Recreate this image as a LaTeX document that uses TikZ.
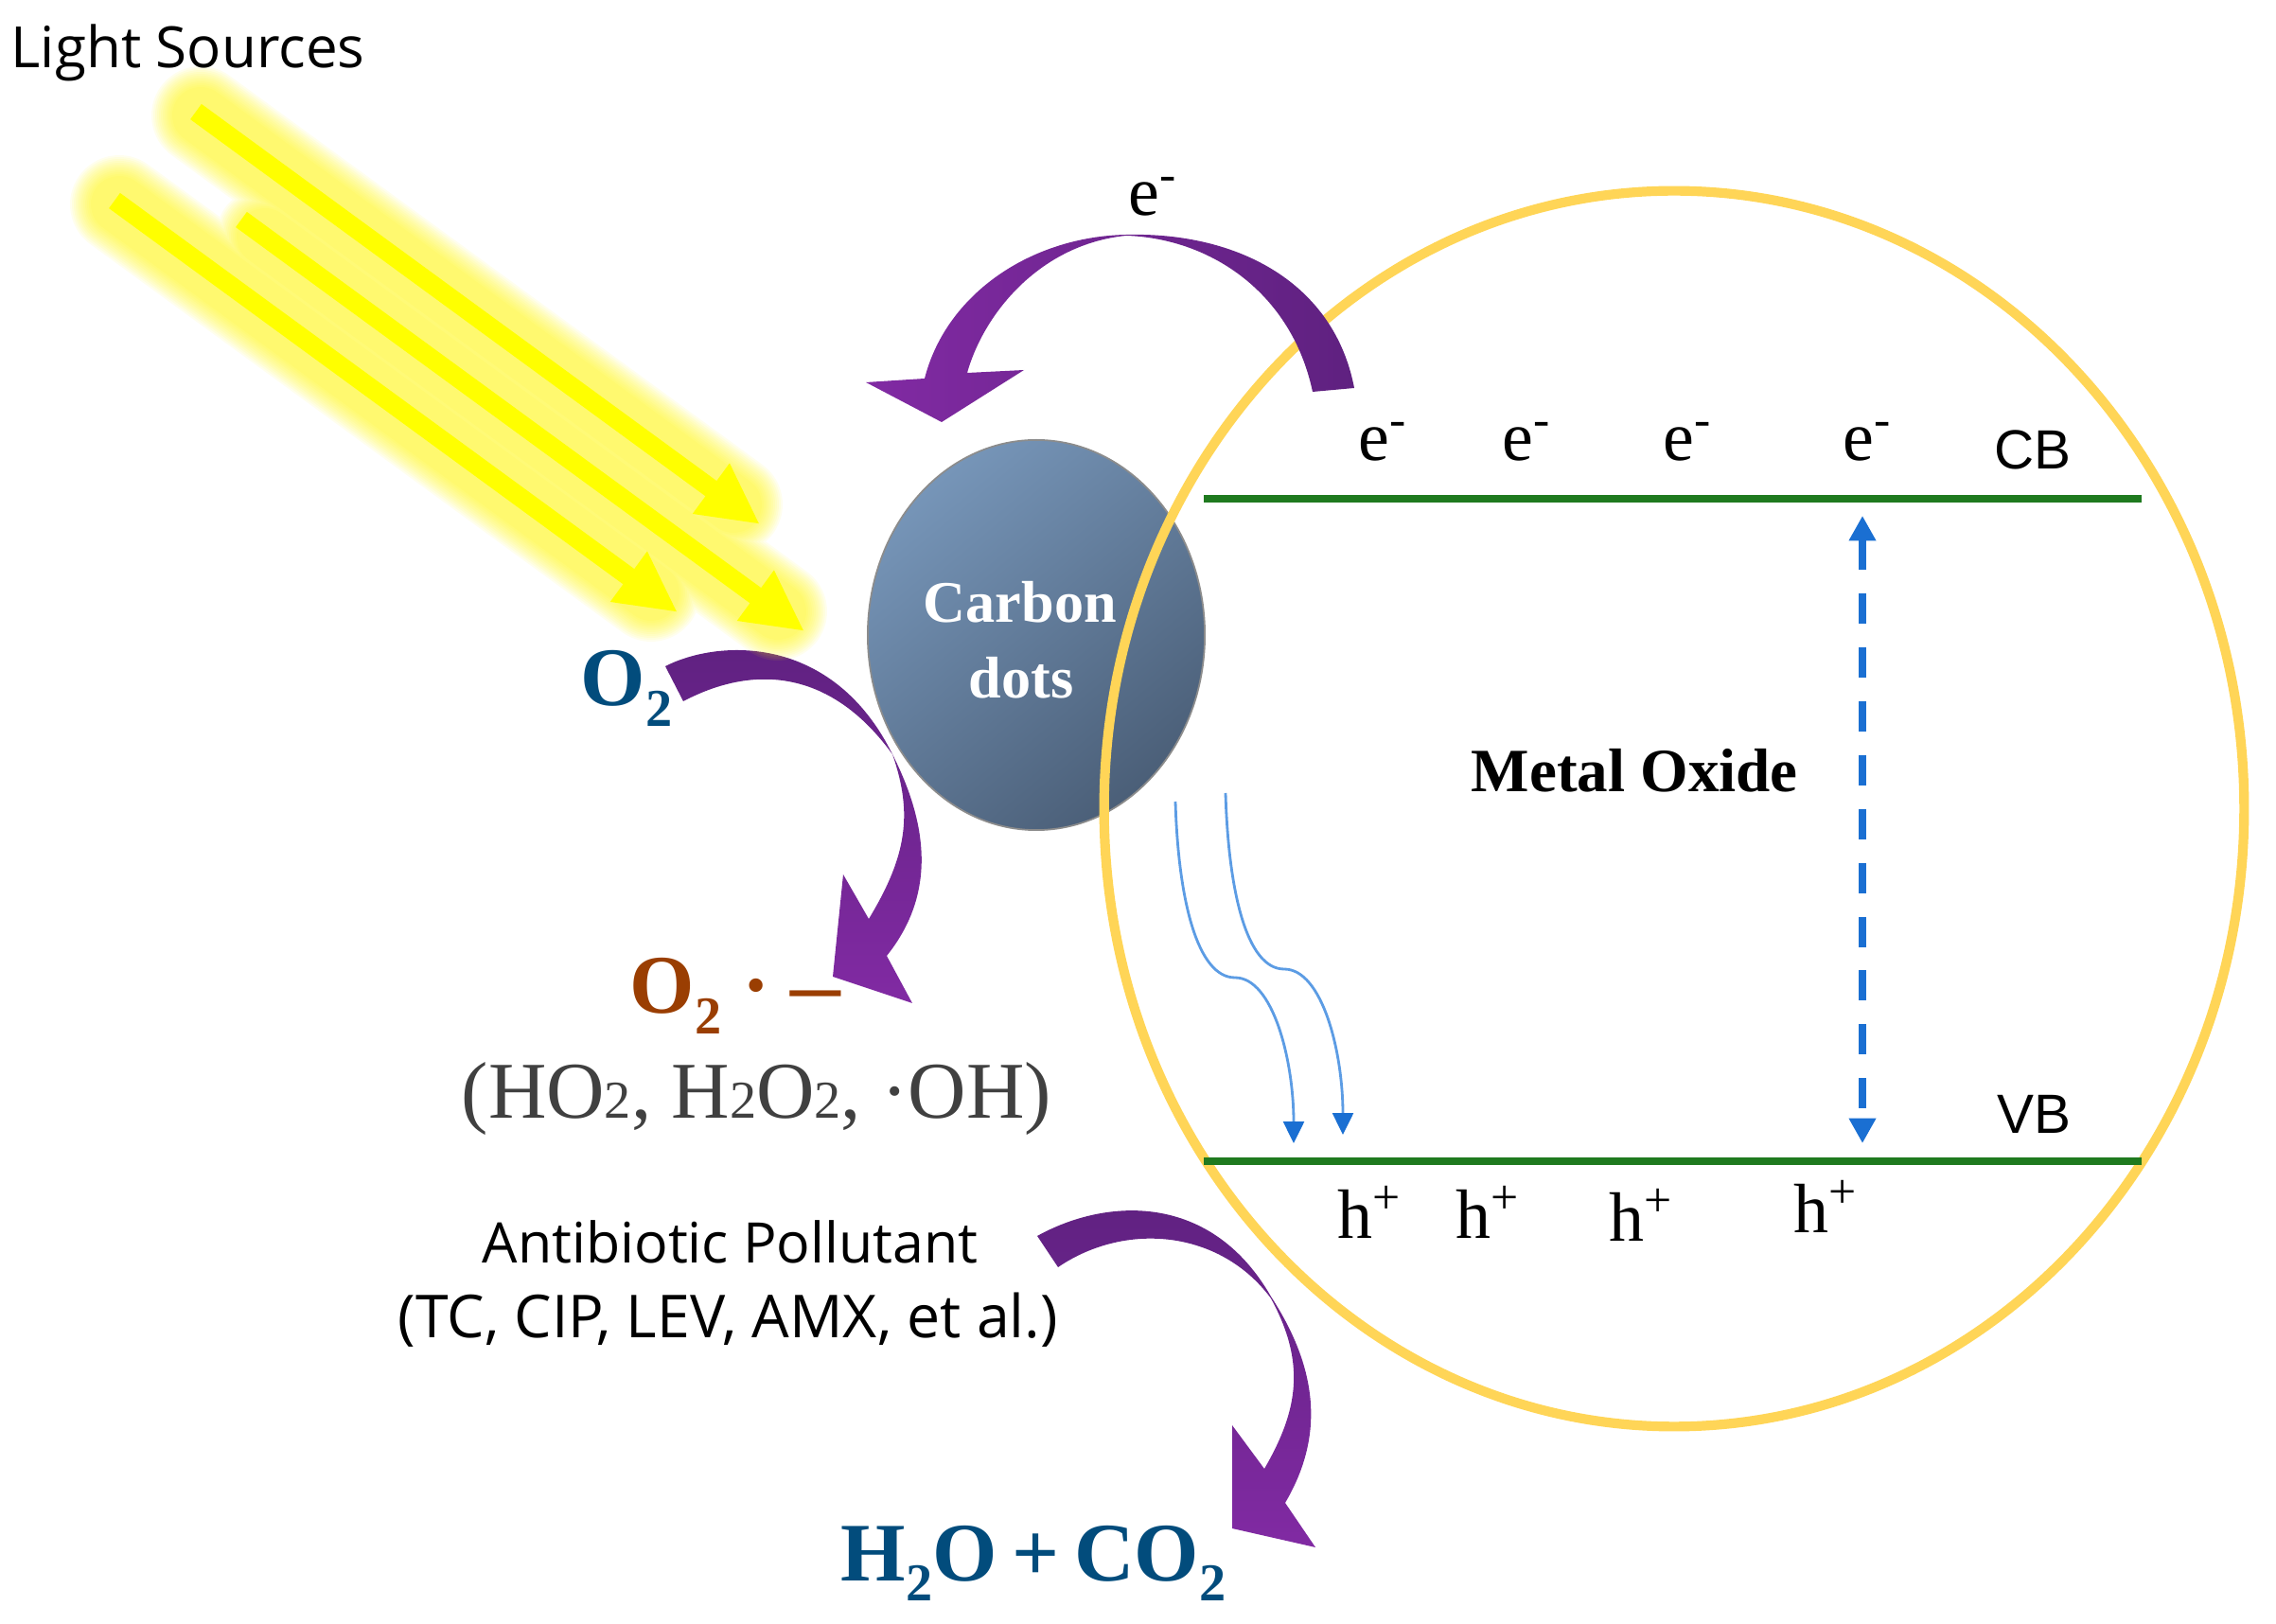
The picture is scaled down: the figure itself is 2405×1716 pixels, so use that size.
\documentclass[tikz,border=0pt]{standalone}
\usepackage{fontspec}
\setmainfont{Liberation Serif}
\newfontfamily\opensans{Open Sans}
\newfontfamily\arialsans{Liberation Sans}
\usetikzlibrary{arrows.meta,shapes.geometric}
\definecolor{arcdark}{HTML}{5F2180}
\definecolor{arclight}{HTML}{812AA3}
\definecolor{ringyellow}{HTML}{FFD557}
\definecolor{bandgreen}{HTML}{1F7A1F}
\definecolor{jumpblue}{HTML}{1A6FD2}
\definecolor{driftblue}{HTML}{5C9CE4}
\definecolor{deepblue}{HTML}{024C7C}
\definecolor{rust}{HTML}{9A3E02}
\definecolor{dotlight}{HTML}{7695B8}
\definecolor{dotmid}{HTML}{6A86A4}
\definecolor{dotdark}{HTML}{4B5F78}
\definecolor{sunyellow}{HTML}{FFFF00}
\definecolor{glowyellow}{HTML}{FFF500}
\newcommand{\lowtwo}{\raisebox{-0.24em}{\fontsize{16pt}{16pt}\selectfont 2}}
\newcommand{\flattwo}{{\fontsize{16pt}{16pt}\selectfont 2}}
\tikzset{
  lbl/.style={inner sep=0pt,anchor=base west},
  sanslbl/.style={lbl,font=\opensans\fontsize{16.8pt}{20pt}\selectfont},
  bandlbl/.style={lbl,font=\arialsans\fontsize{16.6pt}{20pt}\selectfont},
  chargelbl/.style={lbl,font=\fontsize{21pt}{24pt}\selectfont},
  boldlbl/.style={lbl,font=\bfseries\fontsize{25pt}{28pt}\selectfont},
  beam/.style={sunyellow,line width=5.7pt,-{Triangle[length=18.2pt,width=17.4pt]}},
  band/.style={bandgreen,line width=2.4pt},
  drift/.style={driftblue,line width=0.8pt,-{Triangle[length=6.5pt,width=6.2pt,color=jumpblue]}},
  arcup/.style={top color=arcdark,bottom color=arclight}
}
\begin{document}
\begin{tikzpicture}[x=0.01cm,y=-0.01cm]
  \useasboundingbox (0,0) rectangle (2405,1716);

  % O2 arc goes under the glow
  \shade[arcup] (703,704) .. controls (760,675) and (880,670) .. (943,797)
    .. controls (985,880) and (985,950) .. (937,1010)
    -- (964,1060) -- (880,1032) -- (891,924) -- (918,971)
    .. controls (958,905) and (965,860) .. (943,797)
    .. controls (880,710) and (800,700) .. (722,741) -- cycle;

  % light beams
  \coordinate (beamA) at (207,118);
  \coordinate (beamB) at (121,212);
  \coordinate (beamC) at (255,232);
  \coordinate (tipA) at (803,554);
  \coordinate (tipB) at (716,647);
  \coordinate (tipC) at (850,667);
  \coordinate (glowAs) at (212,122);
  \coordinate (glowBs) at (126,216);
  \coordinate (glowCs) at (280,250);
  \coordinate (glowA) at (775,533);
  \coordinate (glowB) at (688,626);
  \coordinate (glowC) at (822,646);
  \foreach \w in {104,100,...,60}
    \draw[glowyellow,opacity=.065,line cap=round,line width=\w*0.2845pt]
      (glowAs) -- (glowA) (glowBs) -- (glowB) (glowCs) -- (glowC);
  \draw[beam] (beamA) -- (tipA);
  \draw[beam] (beamB) -- (tipB);
  \draw[beam] (beamC) -- (tipC);
  \node (light) [sanslbl,font=\opensans\fontsize{17.1pt}{20pt}\selectfont] at (11,72) {Light Sources};

  % particle and ring
  \node (dot) [ellipse,draw=gray!90,line width=0.5pt,minimum width=3.56cm,minimum height=4.12cm,
    top color=dotlight,middle color=dotmid,bottom color=dotdark,shading angle=40] at (1095,671) {};
  \node (carbon) [boldlbl,white,font=\bfseries\fontsize{17.7pt}{20pt}\selectfont] at (975,658) {Carbon};
  \node (dots) [boldlbl,white,font=\bfseries\fontsize{17.7pt}{20pt}\selectfont] at (1023,738) {dots};
  \node (ring) [ellipse,draw=ringyellow,line width=2.9pt,minimum width=12.04cm,minimum height=13.05cm] at (1769,854.5) {};

  % bands
  \coordinate (cbL) at (1272,527);
  \coordinate (cbR) at (2263,527);
  \coordinate (vbL) at (1272,1227);
  \coordinate (vbR) at (2263,1227);
  \draw[band] (cbL) -- (cbR);
  \draw[band] (vbL) -- (vbR);
  \node (cb) [bandlbl] at (2107,496) {CB};
  \node (vb) [bandlbl] at (2110,1198) {VB};
  \node (metal) [boldlbl,font=\bfseries\fontsize{18.5pt}{20pt}\selectfont] at (1554,837) {Metal Oxide};

  \foreach \x/\n in {1435/a,1587/b,1757/c,1947/d}
    \node (e\n) [chargelbl] at (\x,487) {e\textsuperscript{-}};
  \node (etop) [chargelbl] at (1192,228) {e\textsuperscript{-}};
  \node (ha) [chargelbl] at (1413,1309) {h\textsuperscript{+}};
  \node (hb) [chargelbl] at (1538,1309) {h\textsuperscript{+}};
  \node (hc) [chargelbl] at (1700,1312) {h\textsuperscript{+}};
  \node (hd) [chargelbl] at (1895,1303) {h\textsuperscript{+}};

  % blue arrows
  \coordinate (jumpT) at (1968,545);
  \coordinate (jumpB) at (1968,1208);
  \draw[jumpblue,line width=2.3pt,dash pattern=on 9.1pt off 7.1pt,
    {Triangle[length=7.5pt,width=7.7pt]}-{Triangle[length=7.5pt,width=7.7pt]}] (jumpT) -- (jumpB);
  \coordinate (driftA) at (1242,847);
  \coordinate (driftAm) at (1305,1033);
  \coordinate (driftAe) at (1367,1208);
  \coordinate (driftB) at (1295,838);
  \coordinate (driftBm) at (1357,1024);
  \coordinate (driftBe) at (1419,1199);
  \draw[drift] (driftA) .. controls (1245,950) and (1265,1033) .. (driftAm) .. controls (1345,1033) and (1367,1120) .. (driftAe);
  \draw[drift] (driftB) .. controls (1298,941) and (1317,1024) .. (driftBm) .. controls (1397,1024) and (1419,1111) .. (driftBe);

  % purple arcs
  \shade[left color=arclight,right color=arcdark] (1387,414) -- (1431,410)
    .. controls (1410,300) and (1310,245) .. (1190,248)
    .. controls (1090,250) and (1000,310) .. (977,400)
    -- (915,404) -- (995,446) -- (1082,391) -- (1022,394)
    .. controls (1040,330) and (1100,258) .. (1190,249)
    .. controls (1280,252) and (1365,310) .. (1387,414) -- cycle;
  \shade[arcup] (1096,1306) .. controls (1170,1265) and (1280,1260) .. (1343,1370)
    .. controls (1395,1450) and (1398,1520) .. (1358,1588)
    -- (1390,1635) -- (1302,1615) -- (1302,1506) -- (1336,1552)
    .. controls (1372,1490) and (1380,1440) .. (1343,1372)
    .. controls (1290,1300) and (1190,1290) .. (1118,1339) -- cycle;

  % species
  \node (otwo) [boldlbl,deepblue] at (613,746) {O\lowtwo};
  \node (radical) [boldlbl,rust] at (665,1071) {O\lowtwo{} · \scalebox{1.2}[1]{--}};
  \node (others) [lbl,text=black!75,font=\fontsize{24.2pt}{28pt}\selectfont] at (487,1182) {(HO\flattwo, H\flattwo O\flattwo, ·OH)};
  \node (antibiotic) [sanslbl] at (509,1335) {Antibiotic Pollutant};
  \node (names) [sanslbl,font=\opensans\fontsize{17.8pt}{20pt}\selectfont] at (420,1414) {(TC, CIP, LEV, AMX, et al.)};
  \node (products) [boldlbl,deepblue] at (888,1670) {H\lowtwo O\hspace{.18em}+\hspace{.18em}CO\lowtwo};
\end{tikzpicture}
\end{document}
